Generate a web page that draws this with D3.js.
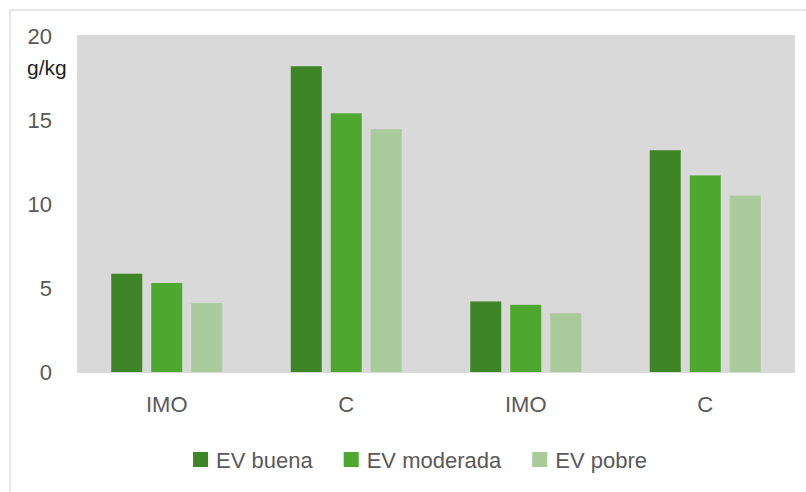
<!DOCTYPE html>
<html lang="es">
<head>
<meta charset="utf-8">
<title>EV g/kg</title>
<script src="https://cdn.jsdelivr.net/npm/d3@7"></script>
<style>
  body { margin: 0; background: #fff; }
  text { font-family: "Liberation Sans", Arial, sans-serif; fill: #595959; }
</style>
</head>
<body>
<script>
// data
var categories = ["IMO", "C", "IMO2", "C2"];
var catLabels = ["IMO", "C", "IMO", "C"];
var series = ["EV buena", "EV moderada", "EV pobre"];
var buena    = [5.85, 18.2, 4.2, 13.2];
var moderada = [5.3, 15.4, 4.0, 11.7];
var pobre    = [4.1, 14.45, 3.5, 10.5];
var yTicks = [0, 5, 10, 15, 20];
var colors = ["#3d8526", "#4ea72e", "#a9ca9a"];

var values = [buena, moderada, pobre];

var W = 806, H = 492;
var plot = {left: 77, right: 795, top: 35, bottom: 373};

var svg = d3.select("body").append("svg")
    .attr("width", W)
    .attr("height", H);

// outer frame
svg.append("rect")
    .attr("x", 10).attr("y", 10)
    .attr("width", W + 10).attr("height", H + 10)
    .attr("fill", "none")
    .attr("stroke", "#dedede")
    .attr("stroke-width", 1.5);

svg.append("rect")
    .attr("x", plot.left).attr("y", plot.top)
    .attr("width", plot.right - plot.left)
    .attr("height", plot.bottom - plot.top)
    .attr("fill", "#d9d9d9");

var x0 = d3.scaleBand()
    .domain(categories)
    .range([plot.left, plot.right])
    .padding(0);

var y = d3.scaleLinear()
    .domain([0, 20])
    .range([372, 36]);

var x1 = d3.scaleBand()
    .domain(series)
    .range([-55.5, 55.5])
    .paddingInner(0.225)
    .paddingOuter(0);

var groups = svg.append("g").selectAll("g")
    .data(categories)
    .enter().append("g")
    .attr("transform", function(d) { return "translate(" + (x0(d) + x0.bandwidth() / 2) + ",0)"; });

groups.selectAll("rect")
    .data(function(d, i) { return series.map(function(s, j) { return {s: s, v: values[j][i], j: j}; }); })
    .enter().append("rect")
    .attr("x", function(d) { return x1(d.s); })
    .attr("width", x1.bandwidth())
    .attr("y", function(d) { return y(d.v); })
    .attr("height", function(d) { return y(0) - y(d.v); })
    .attr("fill", function(d) { return colors[d.j]; });

// y axis labels
var yAxis = d3.axisLeft(y).tickValues(yTicks).tickSize(0).tickPadding(0);
var ya = svg.append("g")
    .attr("transform", "translate(52,0)")
    .call(yAxis);
ya.select(".domain").remove();
ya.selectAll("text")
    .attr("font-size", "22px")
    .attr("font-family", null)
    .style("fill", "#595959")
    .attr("dy", "0.36em");

svg.append("text")
    .attr("x", 27).attr("y", 75)
    .attr("font-size", "21px")
    .style("fill", "#1f1f1f")
    .text("g/kg");

// x axis labels
var xAxis = d3.axisBottom(x0).tickSize(0).tickFormat(function(d, i) { return catLabels[i]; });
var xa = svg.append("g")
    .attr("transform", "translate(0," + plot.bottom + ")")
    .call(xAxis);
xa.select(".domain").remove();
xa.selectAll("text")
    .attr("font-size", "22px")
    .attr("font-family", null)
    .style("fill", "#595959")
    .attr("y", 0)
    .attr("dy", "1.75em");

// legend
var legend = svg.append("g");
var lx = 0;
series.forEach(function(s, i) {
  var item = legend.append("g").attr("transform", "translate(" + lx + ",0)");
  item.append("rect")
      .attr("x", 0).attr("y", -8)
      .attr("width", 15).attr("height", 15)
      .attr("fill", colors[i]);
  var t = item.append("text")
      .attr("x", 23).attr("y", 0)
      .attr("dy", "0.36em")
      .attr("font-size", "22px")
      .text(s);
  lx += 23 + t.node().getComputedTextLength() + 31;
});
var lw = lx - 31;
legend.attr("transform", "translate(" + (420 - lw / 2) + ",460)");
</script>
</body>
</html>
